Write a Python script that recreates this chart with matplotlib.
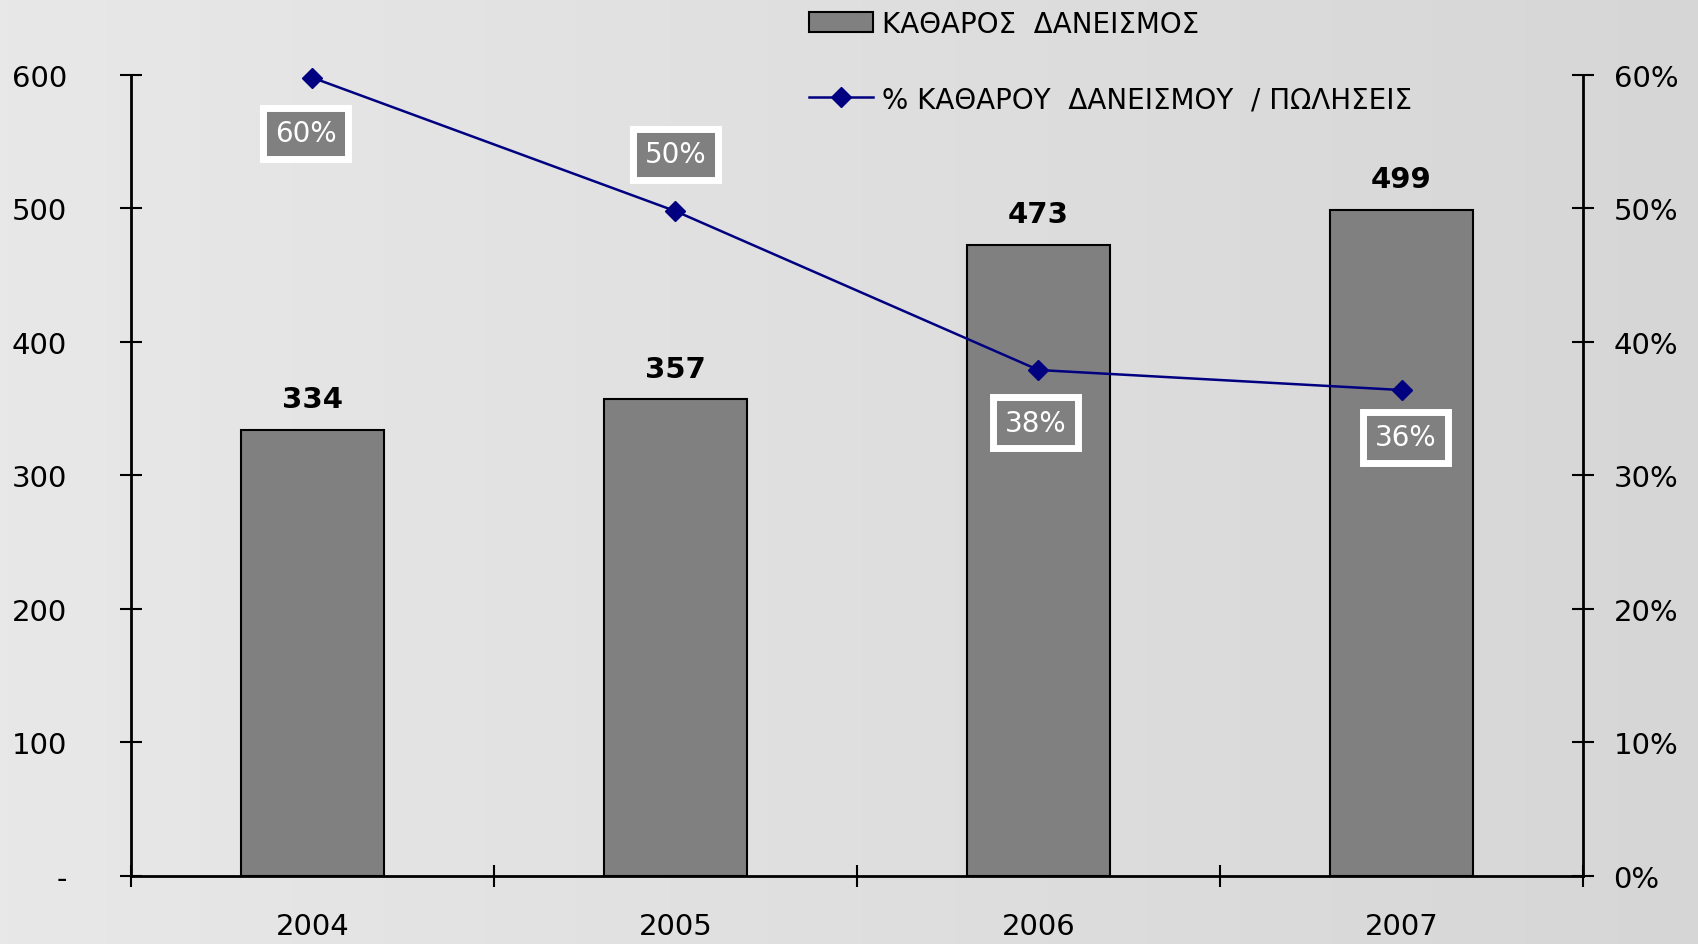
import numpy as np
import matplotlib.pyplot as plt

years = ["2004", "2005", "2006", "2007"]
lending = [334, 357, 473, 499]
ratio = [0.598, 0.498, 0.379, 0.364]
ratio_labels = ["60%", "50%", "38%", "36%"]
# label offsets relative to the point, in points (down negative)
label_dy = [-40, 41, -38, -34]
label_dx = [-5, 0, -2, 3]

bar_name = "ΚΑΘΑΡΟΣ  ΔΑΝΕΙΣΜΟΣ"
line_name = "% ΚΑΘΑΡΟΥ  ΔΑΝΕΙΣΜΟΥ  / ΠΩΛΗΣΕΙΣ"

plt.rcParams['font.family'] = ['DejaVu Sans']

fig = plt.figure(figsize=(16.98, 9.45), dpi=100)

# light grey background with a soft gradient
bg = fig.add_axes([0, 0, 1, 1], zorder=-10)
grad = np.linspace(0.91, 0.84, 256)[None, :]
bg.imshow(np.dstack([grad, grad, grad]), aspect='auto', extent=[0, 1, 0, 1])
bg.axis('off')

ax = fig.add_axes([0.0771, 0.072, 0.8552, 0.8476])
ax.patch.set_alpha(0)
x = np.arange(len(years))

bars = ax.bar(x, lending, width=0.395, color='#808080', edgecolor='black',
              linewidth=1.5, label=bar_name)
for xi, v in zip(x, lending):
    ax.annotate(str(v), (xi, v), xytext=(0, 12), textcoords='offset points',
                ha='center', va='bottom', fontsize=21, fontweight='bold')

ax.set_xlim(-0.5, 3.5)
ax.set_ylim(0, 600)
ax.set_yticks(range(0, 601, 100))
ax.set_yticklabels(["-"] + [str(v) for v in range(100, 601, 100)])
ax.set_xticks(np.arange(-0.5, 3.6, 1))
ax.set_xticklabels([])
ax.set_xticks(x, minor=True)
ax.set_xticklabels(years, minor=True)
ax.tick_params(axis='x', which='minor', length=0, pad=26, labelsize=21)
ax.tick_params(axis='x', which='major', direction='inout', length=16, width=1.5)
ax.tick_params(axis='y', direction='inout', length=16, width=1.5,
               pad=38, labelsize=21)
ax.spines['top'].set_visible(False)
ax.spines['right'].set_visible(False)
for s in ['left', 'bottom']:
    ax.spines[s].set_linewidth(2)

ax2 = ax.twinx()
ax2.set_ylim(0, 0.6)
ax2.set_yticks(np.arange(0, 0.61, 0.1))
ax2.set_yticklabels([f"{int(round(v*100))}%" for v in np.arange(0, 0.61, 0.1)])
ax2.tick_params(axis='y', direction='inout', length=16, width=1.5,
                pad=14, labelsize=21)
ax2.spines['top'].set_visible(False)
ax2.spines['left'].set_visible(False)
ax2.spines['bottom'].set_visible(False)
ax2.spines['right'].set_linewidth(2)

line, = ax2.plot(x, ratio, color='#000080', lw=1.8, marker='D', markersize=10,
                 label=line_name, clip_on=False)
for xi, v, t, dx, dy in zip(x, ratio, ratio_labels, label_dx, label_dy):
    ax2.annotate(t, (xi, v), xytext=(dx, dy), textcoords='offset points',
                 ha='center', va='center', fontsize=20, color='white',
                 bbox=dict(boxstyle='square,pad=0.42', fc='#808080',
                           ec='white', lw=5))

fig.legend([bars, line], [bar_name, line_name], loc='upper left',
           bbox_to_anchor=(0.462, 1.015), frameon=False, fontsize=20,
           labelspacing=1.7, handlelength=2.3, handletextpad=0.3)

fig.savefig("out.png", dpi=100)
